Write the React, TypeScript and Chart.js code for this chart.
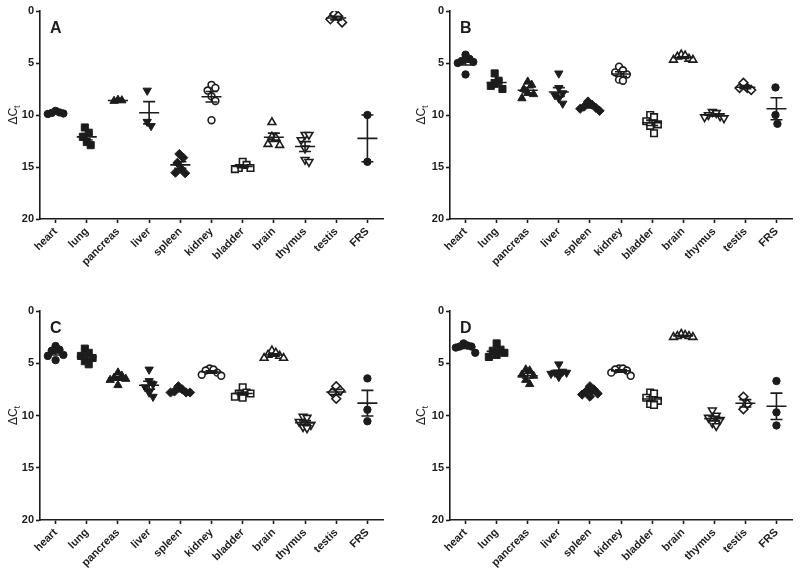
import React, { useEffect, useRef } from 'react';
import { Chart, registerables } from 'chart.js';
Chart.register(...registerables);

const categories = ['heart', 'lung', 'pancreas', 'liver', 'spleen', 'kidney', 'bladder', 'brain', 'thymus', 'testis', 'FRS'];
const yTickValues = [0, 5, 10, 15, 20];
const panelLetters = ['A', 'B', 'C', 'D'];

// ΔCt values per tissue (order follows `categories`)
const panelA: number[][] = [
  [9.6, 9.75, 9.85, 9.9, 9.8],
  [11.2, 11.7, 12.1, 12.6, 12.9],
  [8.65, 8.55, 8.6],
  [7.65, 11.05, 10.65],
  [13.75, 14.1, 14.6, 15.2, 15.55, 15.6],
  [7.1, 7.4, 7.65, 8.2, 8.65, 10.5],
  [14.5, 14.8, 15.1, 15.1, 15.2],
  [10.7, 12.1, 12.2, 12.8, 12.9],
  [11.9, 11.9, 12.4, 13.2, 14.3, 14.5],
  [1.1, 0.3, 0.5, 0.8],
  [10.0, 14.5],
];
const panelB: number[][] = [
  [4.2, 4.6, 4.8, 4.9, 5.0, 6.1],
  [6.0, 6.7, 7.0, 7.2, 7.5],
  [6.8, 7.1, 7.5, 7.9, 8.0, 8.4],
  [6.0, 7.4, 7.9, 8.1, 8.4, 8.9],
  [8.7, 9.0, 9.2, 9.3, 9.4, 9.6],
  [5.35, 5.7, 5.9, 6.1, 6.6, 6.7],
  [10.0, 10.2, 10.6, 10.9, 11.05, 11.75],
  [4.2, 4.3, 4.4, 4.6, 4.7, 4.7],
  [9.7, 9.8, 10.0, 10.1, 10.2, 10.3],
  [6.9, 7.4, 7.4, 7.6],
  [7.35, 10.0, 10.85],
];
const panelC: number[][] = [
  [3.35, 3.7, 3.8, 4.2, 4.3, 4.7],
  [3.6, 4.0, 4.3, 4.5, 4.8, 5.1],
  [5.9, 6.2, 6.4, 6.5, 6.6, 7.1],
  [5.6, 6.7, 7.0, 7.3, 7.8, 8.2],
  [7.2, 7.5, 7.7, 7.8, 7.8, 7.8],
  [5.5, 5.6, 5.7, 5.9, 6.1, 6.2],
  [7.3, 7.8, 7.9, 7.9, 8.2, 8.3],
  [3.8, 4.0, 4.2, 4.3, 4.5, 4.5],
  [10.1, 10.2, 10.6, 10.9, 11.1, 11.2],
  [7.2, 7.6, 7.8, 8.4],
  [6.45, 9.45, 10.55],
];
const panelD: number[][] = [
  [3.1, 3.3, 3.4, 3.4, 3.5, 4.0],
  [3.1, 3.7, 3.8, 4.0, 4.2, 4.4],
  [5.6, 5.7, 6.1, 6.2, 6.6, 7.0],
  [5.1, 5.8, 5.9, 5.9, 6.0, 6.3],
  [7.2, 7.5, 7.7, 7.9, 8.0, 8.2],
  [5.5, 5.5, 5.6, 5.7, 5.9, 6.2],
  [7.8, 7.9, 8.3, 8.6, 8.9, 9.0],
  [2.2, 2.3, 2.4, 2.4, 2.5, 2.5],
  [9.5, 10.0, 10.2, 10.4, 10.7, 11.0],
  [8.2, 8.9, 9.4],
  [6.7, 9.7, 10.95],
];
const panels = [panelA, panelB, panelC, panelD];

// marker styles per category (GraphPad-like symbol sequence)
const INK = '#1c1c1c';
const markerStyles = [
  { style: 'circle', rot: 0, open: false, r: 3.7 },
  { style: 'rect', rot: 0, open: false, r: 5 },
  { style: 'triangle', rot: 0, open: false, r: 4.8 },
  { style: 'triangle', rot: 180, open: false, r: 4.8 },
  { style: 'rectRot', rot: 0, open: false, r: 4.6 },
  { style: 'circle', rot: 0, open: true, r: 3.4 },
  { style: 'rect', rot: 0, open: true, r: 4.6 },
  { style: 'triangle', rot: 0, open: true, r: 4.5 },
  { style: 'triangle', rot: 180, open: true, r: 4.5 },
  { style: 'rectRot', rot: 0, open: true, r: 4.4 },
  { style: 'circle', rot: 0, open: false, r: 3.7 },
];

// layout per panel: [yAxisWidth, topPad, rightPad, xAxisHeight, titleX]
const layouts = [
  [40, 11, 17, 69, 14],
  [50, 11, 8, 69, 22],
  [40, 23, 17, 56, 14],
  [50, 23, 8, 56, 22],
];

// beeswarm-style horizontal offsets (category units), elliptical collision, centred
function swarm(values: number[]): number[] {
  const yPx = 10.4, xPx = 31.2, ax = 3.9, ay = 10, step = 1.95;
  const placed: { x: number; y: number }[] = [];
  const out = new Array(values.length).fill(0);
  const order = values.map((_, i) => i).sort((a, b) => values[a] - values[b]);
  for (const i of order) {
    const py = values[i] * yPx;
    let ox = 0;
    for (let s = 0; s < 80; s++) {
      const c = s === 0 ? 0 : (s % 2 === 1 ? 1 : -1) * Math.ceil(s / 2) * step;
      const ok = placed.every(p => {
        const dx = (p.x - c) / ax, dy = (p.y - py) / ay;
        return dx * dx + dy * dy >= 0.999;
      });
      if (ok) { ox = c; break; }
    }
    placed.push({ x: ox, y: py });
    out[i] = ox;
  }
  const lo = Math.min(...out), hi = Math.max(...out);
  const mid = (lo + hi) / 2;
  return out.map(o => (o - mid) / xPx);
}

function stats(v: number[]) {
  const n = v.length;
  const m = v.reduce((a, b) => a + b, 0) / n;
  const sd = n > 1 ? Math.sqrt(v.reduce((a, b) => a + (b - m) * (b - m), 0) / (n - 1)) : 0;
  return { m, sem: n > 1 ? sd / Math.sqrt(n) : 0 };
}

const FONT = "'Liberation Sans', Arial, Helvetica, sans-serif";

function Panel({ idx }: { idx: number }) {
  const ref = useRef<HTMLCanvasElement>(null);
  useEffect(() => {
    const data = panels[idx];
    const [yW, topPad, rightPad, xH, titleX] = layouts[idx];
    const datasets = data.map((vals, ci) => {
      const offs = swarm(vals);
      const ms = markerStyles[ci];
      return {
        label: categories[ci],
        data: vals.map((v, k) => ({ x: ci + offs[k], y: v })),
        pointStyle: ms.style,
        pointRotation: ms.rot,
        pointRadius: ms.r,
        pointHoverRadius: ms.r,
        pointBackgroundColor: ms.open ? '#ffffff' : INK,
        pointBorderColor: INK,
        pointBorderWidth: ms.open ? 1.6 : 1,
        showLine: false,
      };
    });

    const overlay = {
      id: 'overlay',
      afterDatasetsDraw(chart: any) {
        const { ctx, chartArea } = chart;
        const xs = chart.scales.x, ys = chart.scales.y;
        ctx.save();
        ctx.strokeStyle = INK;
        ctx.lineWidth = 1.6;
        data.forEach((vals, ci) => {
          const { m, sem } = stats(vals);
          const px = xs.getPixelForValue(ci);
          const ym = ys.getPixelForValue(m);
          ctx.beginPath();
          ctx.moveTo(px - 10, ym); ctx.lineTo(px + 10, ym);
          if (sem > 0) {
            const y1 = ys.getPixelForValue(m - sem), y2 = ys.getPixelForValue(m + sem);
            ctx.moveTo(px, y1); ctx.lineTo(px, y2);
            ctx.moveTo(px - 6, y1); ctx.lineTo(px + 6, y1);
            ctx.moveTo(px - 6, y2); ctx.lineTo(px + 6, y2);
          }
          ctx.stroke();
        });
        // panel letter
        ctx.fillStyle = INK;
        ctx.font = `bold 16px ${FONT}`;
        ctx.textAlign = 'left';
        ctx.textBaseline = 'alphabetic';
        ctx.fillText(panelLetters[idx], chartArea.left + 10, chartArea.top + 22);
        // y-axis title ΔCt (subscript t)
        const cy = (chartArea.top + chartArea.bottom) / 2;
        ctx.translate(titleX, cy);
        ctx.rotate(-Math.PI / 2);
        ctx.font = `12px ${FONT}`;
        const w1 = ctx.measureText('ΔC').width;
        ctx.font = `9px ${FONT}`;
        const w2 = ctx.measureText('t').width;
        const x0 = -(w1 + w2) / 2;
        ctx.textBaseline = 'middle';
        ctx.font = `12px ${FONT}`;
        ctx.fillText('ΔC', x0, 0);
        ctx.font = `9px ${FONT}`;
        ctx.fillText('t', x0 + w1, 4);
        ctx.restore();
      },
    };

    const chart = new Chart(ref.current as HTMLCanvasElement, {
      type: 'scatter',
      data: { datasets } as any,
      plugins: [overlay],
      options: {
        animation: false,
        responsive: false,
        events: [],
        layout: { padding: { left: 0, top: topPad, right: rightPad, bottom: 0 } },
        plugins: { legend: { display: false }, tooltip: { enabled: false } },
        scales: {
          x: {
            type: 'linear',
            min: -0.5,
            max: categories.length - 0.5,
            afterBuildTicks: (s: any) => { s.ticks = categories.map((_, i) => ({ value: i })); },
            afterFit: (s: any) => { s.height = xH; },
            border: { display: true, color: INK, width: 1.6 },
            grid: { display: true, drawOnChartArea: false, drawTicks: true, tickLength: 4, tickColor: INK, tickWidth: 1.6 },
            ticks: {
              autoSkip: false,
              minRotation: 45,
              maxRotation: 45,
              padding: 2,
              color: INK,
              font: { family: FONT, size: 11, weight: 'bold' },
              callback: (v: any) => categories[Math.round(v)] ?? '',
            },
          },
          y: {
            type: 'linear',
            reverse: true,
            min: 0,
            max: 20,
            afterBuildTicks: (s: any) => { s.ticks = yTickValues.map(v => ({ value: v })); },
            afterFit: (s: any) => { s.width = yW; },
            border: { display: true, color: INK, width: 1.6 },
            grid: { display: true, drawOnChartArea: false, drawTicks: true, tickLength: 4, tickColor: INK, tickWidth: 1.6 },
            ticks: {
              padding: 2,
              color: INK,
              font: { family: FONT, size: 11, weight: 'bold' },
            },
          },
        },
      } as any,
    });
    return () => chart.destroy();
  }, [idx]);
  return <canvas ref={ref} width={400} height={288} style={{ display: 'block', width: 400, height: 288 }} />;
}

export default function App() {
  return (
    <div style={{ position: 'absolute', left: 0, top: 0, width: 800, height: 576, background: '#fff', display: 'flex', flexWrap: 'wrap' }}>
      {[0, 1, 2, 3].map(i => <Panel key={i} idx={i} />)}
    </div>
  );
}
